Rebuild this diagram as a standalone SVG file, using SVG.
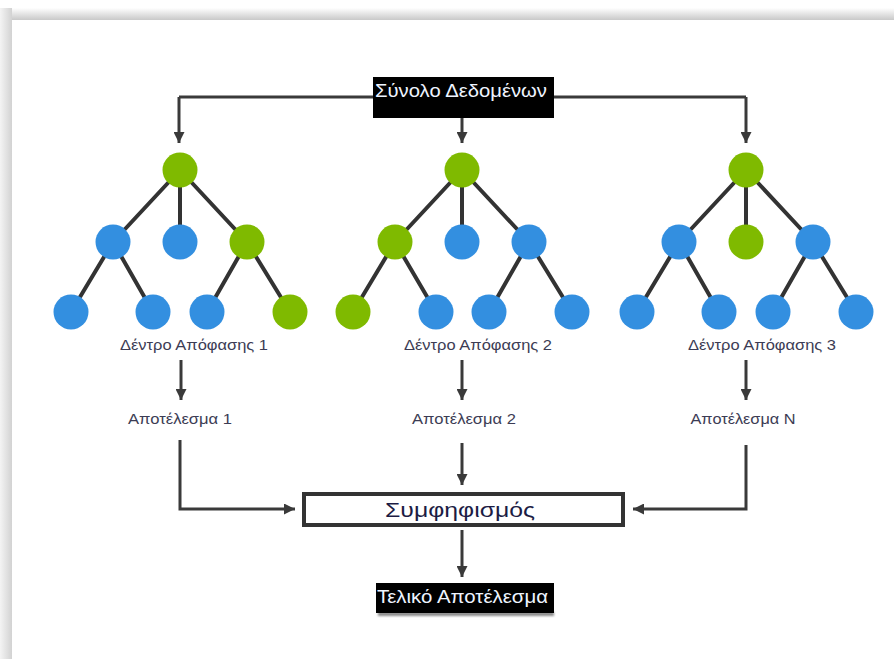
<svg xmlns="http://www.w3.org/2000/svg" width="894" height="659" viewBox="0 0 894 659">
  <defs>
    <linearGradient id="shadeTop" x1="0" y1="0" x2="0" y2="1">
      <stop offset="0" stop-color="#ffffff"/>
      <stop offset="1" stop-color="#c9c9c9"/>
    </linearGradient>
    <linearGradient id="shadeLeft" x1="0" y1="0" x2="1" y2="0">
      <stop offset="0" stop-color="#f4f4f4"/>
      <stop offset="1" stop-color="#d2d2d2"/>
    </linearGradient>
    <marker id="arrow" viewBox="0 0 10 10" refX="10" refY="5" markerWidth="11" markerHeight="11" markerUnits="userSpaceOnUse" orient="auto">
      <path d="M0,0 L10,5 L0,10 z" fill="#3a3a3a"/>
    </marker>
    <filter id="soft" x="-5%" y="-50%" width="110%" height="200%">
      <feGaussianBlur stdDeviation="1.2"/>
    </filter>
  </defs>
  <style>
    .edge { stroke: #333333; stroke-width: 4; fill: none; }
    .flow { stroke: #3a3a3a; stroke-width: 3; fill: none; }
    .arr { marker-end: url(#arrow); }
    .green { fill: #7fba00; }
    .blue { fill: #338fe0; }
    .lbl { font-family: "Liberation Sans", "Open Sans", sans-serif; font-size: 14px; fill: #3c3c54; text-anchor: middle; }
    .dark { fill: #000000; }
    .white { font-family: "Liberation Sans", "Open Sans", sans-serif; fill: #eef4ff; }
  </style>

  <!-- page background with soft edge shading -->
  <rect x="0" y="0" width="894" height="659" fill="#ffffff"/>
  <rect x="0" y="8" width="894" height="12" fill="url(#shadeTop)"/>
  <rect x="0" y="8" width="12" height="651" fill="url(#shadeLeft)"/>

  <!-- connectors -->
  <g id="connectors">
    <path class="flow" d="M179,97 H746"/>
    <path class="flow arr" d="M179,97 V143"/>
    <path class="flow arr" d="M462,110 V143"/>
    <path class="flow arr" d="M746,97 V143"/>

    <path class="flow arr" d="M181,360 V400"/>
    <path class="flow arr" d="M462,360 V400"/>
    <path class="flow arr" d="M746,360 V400"/>

    <path class="flow arr" d="M180,440 V509 H295"/>
    <path class="flow arr" d="M462,443 V485"/>
    <path class="flow arr" d="M746,445 V509 H633"/>
    <path class="flow arr" d="M462,530 V577"/>
  </g>

  <!-- dataset source -->
  <g id="dataset">
    <rect class="dark" x="373" y="77" width="181" height="41"/>
    <text class="white" x="375" y="97" font-size="19" textLength="172" lengthAdjust="spacingAndGlyphs">Σύνολο Δεδομένων</text>
  </g>

  <!-- decision tree 1 -->
  <g id="tree1">
    <path class="edge" d="M180,170 L113,242 M180,170 V242 M180,170 L247,242 M113,242 L71,312 M113,242 L153,312 M247,242 L207,312 M247,242 L290,312"/>
    <circle class="green" cx="180" cy="170" r="17.5"/>
    <circle class="blue" cx="113" cy="242" r="17.5"/>
    <circle class="blue" cx="180" cy="242" r="17.5"/>
    <circle class="green" cx="247" cy="242" r="17.5"/>
    <circle class="blue" cx="71" cy="312" r="17.5"/>
    <circle class="blue" cx="153" cy="312" r="17.5"/>
    <circle class="blue" cx="207" cy="312" r="17.5"/>
    <circle class="green" cx="290" cy="312" r="17.5"/>
    <text class="lbl" x="194" y="350" textLength="148" lengthAdjust="spacingAndGlyphs">Δέντρο Απόφασης 1</text>
  </g>

  <!-- decision tree 2 -->
  <g id="tree2">
    <path class="edge" d="M462,170 L395,242 M462,170 V242 M462,170 L529,242 M395,242 L353,312 M395,242 L436,312 M529,242 L489,312 M529,242 L572,312"/>
    <circle class="green" cx="462" cy="170" r="17.5"/>
    <circle class="green" cx="395" cy="242" r="17.5"/>
    <circle class="blue" cx="462" cy="242" r="17.5"/>
    <circle class="blue" cx="529" cy="242" r="17.5"/>
    <circle class="green" cx="353" cy="312" r="17.5"/>
    <circle class="blue" cx="436" cy="312" r="17.5"/>
    <circle class="blue" cx="489" cy="312" r="17.5"/>
    <circle class="blue" cx="572" cy="312" r="17.5"/>
    <text class="lbl" x="478" y="350" textLength="148" lengthAdjust="spacingAndGlyphs">Δέντρο Απόφασης 2</text>
  </g>

  <!-- decision tree 3 -->
  <g id="tree3">
    <path class="edge" d="M746,170 L679,242 M746,170 V242 M746,170 L813,242 M679,242 L637,312 M679,242 L719,312 M813,242 L773,312 M813,242 L856,312"/>
    <circle class="green" cx="746" cy="170" r="17.5"/>
    <circle class="blue" cx="679" cy="242" r="17.5"/>
    <circle class="green" cx="746" cy="242" r="17.5"/>
    <circle class="blue" cx="813" cy="242" r="17.5"/>
    <circle class="blue" cx="637" cy="312" r="17.5"/>
    <circle class="blue" cx="719" cy="312" r="17.5"/>
    <circle class="blue" cx="773" cy="312" r="17.5"/>
    <circle class="blue" cx="856" cy="312" r="17.5"/>
    <text class="lbl" x="762" y="350" textLength="148" lengthAdjust="spacingAndGlyphs">Δέντρο Απόφασης 3</text>
  </g>

  <!-- per-tree results -->
  <g id="result1">
    <text class="lbl" x="180" y="424" textLength="104" lengthAdjust="spacingAndGlyphs">Αποτέλεσμα 1</text>
  </g>
  <g id="result2">
    <text class="lbl" x="464" y="424" textLength="104" lengthAdjust="spacingAndGlyphs">Αποτέλεσμα 2</text>
  </g>
  <g id="resultN">
    <text class="lbl" x="743" y="424" textLength="105" lengthAdjust="spacingAndGlyphs">Αποτέλεσμα Ν</text>
  </g>

  <!-- aggregation step -->
  <g id="aggregation">
    <rect x="304" y="494" width="319" height="31" fill="#ffffff" stroke="#333333" stroke-width="4"/>
    <text x="460" y="517" font-family="Liberation Sans, Open Sans, sans-serif" font-size="21" fill="#1c1c44" text-anchor="middle" textLength="150" lengthAdjust="spacingAndGlyphs">Συμφηφισμός</text>
  </g>

  <!-- final result -->
  <g id="final">
    <rect x="378" y="612" width="176" height="4" fill="#8a8a8a" filter="url(#soft)"/>
    <rect class="dark" x="376" y="583" width="178" height="30"/>
    <text class="white" x="377" y="603" font-size="19" textLength="171" lengthAdjust="spacingAndGlyphs">Τελικό Αποτέλεσμα</text>
  </g>
</svg>
